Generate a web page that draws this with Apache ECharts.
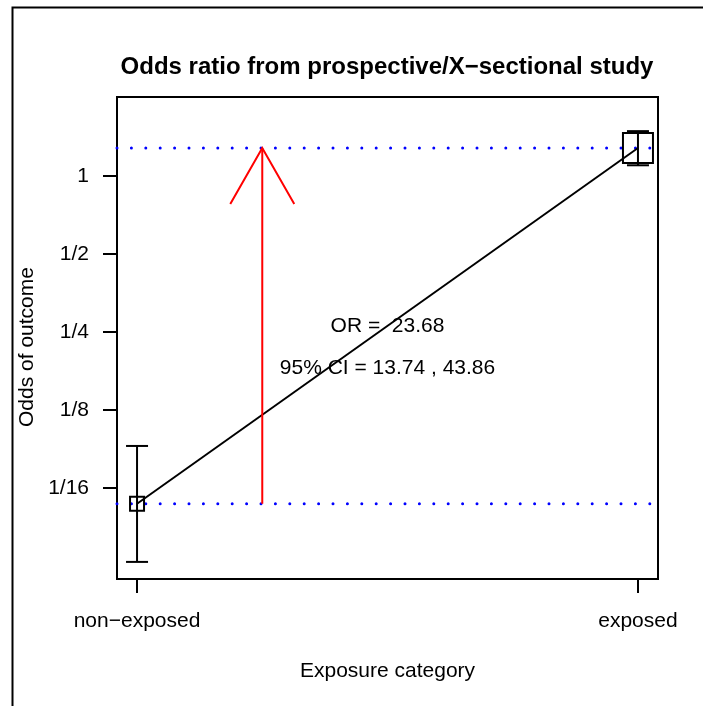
<!DOCTYPE html>
<html>
<head>
<meta charset="utf-8">
<script src="https://cdn.jsdelivr.net/npm/echarts@6/dist/echarts.min.js"></script>
<style>
  html, body { margin: 0; padding: 0; background: #fff; }
  #chart { width: 703px; height: 706px; }
</style>
</head>
<body>
<div id="chart"></div>
<script>
// values (odds on a log2 axis)
const groups = ['non\u2212exposed', 'exposed'];
const groupX = [0, 1];
const odds = [0.0543, 1.283];
const ciLower = [0.0324, 1.10];
const ciUpper = [0.0908, 1.49];
const oddsRatio = '23.68';
const orCi = ['13.74', '43.86'];
const tickOdds = [1 / 16, 1 / 8, 1 / 4, 1 / 2, 1];
const tickLabels = ['1/16', '1/8', '1/4', '1/2', '1'];

const lg = v => Math.log2(v);
const tickValues = tickOdds.map(lg);
const font = 'Liberation Sans, Arial, sans-serif';

const chart = echarts.init(document.getElementById('chart'));

const option = {
  animation: false,
  backgroundColor: '#fff',
  title: {
    text: 'Odds ratio from prospective/X\u2212sectional study',
    left: 382,
    top: 50,
    textAlign: 'center',
    textStyle: { fontFamily: font, fontSize: 24, fontWeight: 'bold', color: '#000' }
  },
  graphic: [
    {
      type: 'rect',
      left: 10, top: 5,
      shape: { width: 760, height: 760 },
      style: { fill: 'none', stroke: '#000', lineWidth: 2 }
    }
  ],
  grid: {
    left: 117, right: 45, top: 97, bottom: 127,
    show: true, borderColor: '#000', borderWidth: 2
  },
  xAxis: {
    type: 'value',
    min: -0.04,
    max: 1.04,
    name: 'Exposure category',
    nameLocation: 'middle',
    nameGap: 82,
    nameTextStyle: { fontFamily: font, fontSize: 21, color: '#000' },
    axisLine: { show: false, onZero: false },
    splitLine: { show: false },
    axisTick: { show: true, customValues: groupX, length: 14, lineStyle: { color: '#000', width: 2 } },
    axisLabel: {
      customValues: groupX,
      margin: 32,
      fontFamily: font, fontSize: 21, color: '#000',
      formatter: v => groups[groupX.indexOf(v)]
    }
  },
  yAxis: {
    type: 'value',
    min: -5.167,
    max: 1.013,
    name: 'Odds of outcome',
    nameLocation: 'middle',
    nameGap: 74,
    nameTextStyle: { fontFamily: font, fontSize: 21, color: '#000', padding: [0, 18, 0, 0] },
    axisLine: { show: false, onZero: false },
    splitLine: { show: false },
    axisTick: { show: true, customValues: tickValues, length: 14, lineStyle: { color: '#000', width: 2 } },
    axisLabel: {
      customValues: tickValues,
      margin: 28,
      fontFamily: font, fontSize: 21, color: '#000',
      formatter: v => tickLabels[tickValues.indexOf(v)]
    }
  },
  series: [
    // blue dotted reference lines at each group's odds
    ...odds.map(o => ({
      type: 'line',
      symbol: 'none',
      silent: true,
      data: [[-0.04, lg(o)], [1.04, lg(o)]],
      lineStyle: { color: '#0000ff', width: 3, type: [0, 14.4], cap: 'round' },
      z: 1
    })),
    // line joining the two odds
    {
      type: 'line',
      symbol: 'none',
      data: groupX.map((x, i) => [x, lg(odds[i])]),
      lineStyle: { color: '#000', width: 2 },
      z: 2
    },
    // confidence intervals and boxes
    {
      type: 'custom',
      data: groupX.map((x, i) => [x, lg(ciLower[i]), lg(ciUpper[i]), lg(odds[i])]),
      renderItem: (params, api) => {
        const lo = api.coord([api.value(0), api.value(1)]);
        const hi = api.coord([api.value(0), api.value(2)]);
        const c = api.coord([api.value(0), api.value(3)]);
        const half = params.dataIndex === 0 ? 7 : 15;
        const cap = 11;
        const st = { stroke: '#000', lineWidth: 2, fill: 'none' };
        return {
          type: 'group',
          children: [
            { type: 'line', shape: { x1: lo[0], y1: lo[1], x2: hi[0], y2: hi[1] }, style: st },
            { type: 'line', shape: { x1: lo[0] - cap, y1: lo[1], x2: lo[0] + cap, y2: lo[1] }, style: st },
            { type: 'line', shape: { x1: hi[0] - cap, y1: hi[1], x2: hi[0] + cap, y2: hi[1] }, style: st },
            { type: 'rect', shape: { x: c[0] - half, y: c[1] - half, width: half * 2, height: half * 2 }, style: st }
          ]
        };
      },
      z: 3
    },
    // red arrow from non-exposed odds up to exposed odds
    {
      type: 'custom',
      data: [[0.25, lg(odds[0]), lg(odds[1])]],
      renderItem: (params, api) => {
        const base = api.coord([api.value(0), api.value(1)]);
        const tip = api.coord([api.value(0), api.value(2)]);
        const st = { stroke: '#ff0000', lineWidth: 2, fill: 'none' };
        return {
          type: 'group',
          children: [
            { type: 'line', shape: { x1: base[0], y1: base[1], x2: tip[0], y2: tip[1] }, style: st },
            { type: 'polyline', shape: { points: [[tip[0] - 32, tip[1] + 56], tip, [tip[0] + 32, tip[1] + 56]] }, style: st }
          ]
        };
      },
      z: 4
    },
    // OR text
    {
      type: 'custom',
      data: [[0.5, lg(0.264), 'OR =  ' + oddsRatio], [0.5, lg(0.182), '95% CI = ' + orCi[0] + ' , ' + orCi[1]]],
      renderItem: (params, api) => {
        const p = api.coord([api.value(0), api.value(1)]);
        return {
          type: 'text',
          style: {
            text: api.value(2),
            x: p[0], y: p[1],
            align: 'center', verticalAlign: 'middle',
            font: '21px ' + font,
            fill: '#000'
          }
        };
      },
      z: 5
    }
  ]
};

chart.setOption(option);
</script>
</body>
</html>
